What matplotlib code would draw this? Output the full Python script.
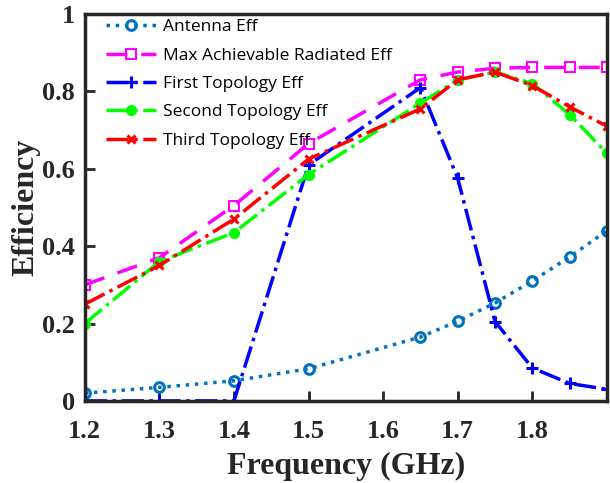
import matplotlib
matplotlib.use('Agg')
import matplotlib.pyplot as plt

freq = [1.2, 1.3, 1.4, 1.5, 1.65, 1.7, 1.75, 1.8, 1.85, 1.9]
antenna_eff = [0.02, 0.035, 0.052, 0.083, 0.165, 0.206, 0.253, 0.31, 0.372, 0.44]
max_eff = [0.30, 0.37, 0.505, 0.665, 0.83, 0.85, 0.86, 0.862, 0.862, 0.862]
first_eff = [0.0, 0.0, 0.0, 0.61, 0.81, 0.575, 0.205, 0.085, 0.045, 0.03]
second_eff = [0.2, 0.36, 0.435, 0.585, 0.77, 0.83, 0.85, 0.82, 0.74, 0.64]
third_eff = [0.25, 0.35, 0.47, 0.625, 0.755, 0.83, 0.85, 0.815, 0.76, 0.71]

xticks = [1.2, 1.3, 1.4, 1.5, 1.6, 1.7, 1.8]
yticks = [0, 0.2, 0.4, 0.6, 0.8, 1]
ytick_labels = ['0', '0.2', '0.4', '0.6', '0.8', '1']

fig = plt.figure(figsize=(6.1, 4.83), dpi=100)
ax = fig.add_axes([0.139, 0.170, 0.856, 0.801])

lw = 2.5
ax.plot(freq, antenna_eff, ':', color='#0072BD', lw=lw, marker='o', ms=7,
        mfc='none', mew=2.2, label='Antenna Eff')
ax.plot(freq, max_eff, '--', color='#FF00FF', lw=lw, marker='s', ms=7,
        mfc='none', mew=1.5, dashes=(6, 4), label='Max Achievable Radiated Eff')
ax.plot(freq, first_eff, '-.', color='#0000FF', lw=lw, marker='+', ms=9,
        mew=2.2, label='First Topology Eff')
ax.plot(freq, second_eff, '-.', color='#00FF00', lw=lw, marker='o', ms=7,
        label='Second Topology Eff')
ax.plot(freq, third_eff, '-.', color='#FF0000', lw=lw, marker='x', ms=6,
        mew=2.2, label='Third Topology Eff')

ax.set_xlim(1.2, 1.9)
ax.set_ylim(0, 1)
ax.set_xticks(xticks)
ax.set_xticklabels([str(t) for t in xticks])
ax.set_yticks(yticks)
ax.set_yticklabels(ytick_labels)

for lab in ax.get_xticklabels() + ax.get_yticklabels():
    lab.set_fontfamily('Liberation Serif')
    lab.set_fontweight('bold')
    lab.set_fontsize(19)
    lab.set_color('#262626')
ax.tick_params(direction='in', length=7, width=2, color='#262626')
ax.tick_params(axis='x', pad=14)
ax.tick_params(axis='y', pad=7)
for sp in ax.spines.values():
    sp.set_linewidth(2.5)
    sp.set_color('#262626')

label_font = dict(family='Liberation Serif', weight='bold', size=23, color='#262626')
ax.set_xlabel('Frequency (GHz)', fontdict=label_font, labelpad=6)
ax.set_ylabel('Efficiency', fontdict=label_font, labelpad=1)

ax.legend(loc='upper left', bbox_to_anchor=(0.03, 1.0), frameon=False,
          prop=dict(family='Open Sans', size=12.5),
          handlelength=2.9, labelspacing=0.7, borderaxespad=0.0, handletextpad=0.4,
          borderpad=0.3)

fig.savefig('out.png', dpi=100)
